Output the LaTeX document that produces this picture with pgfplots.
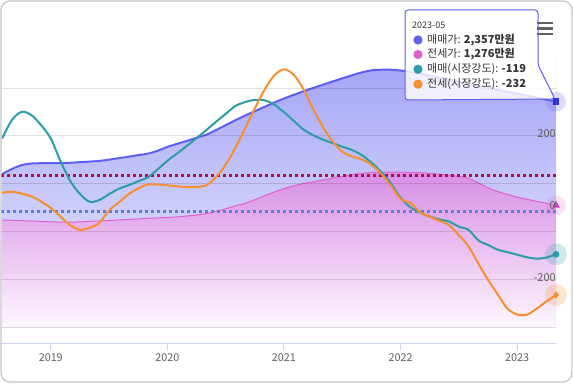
\documentclass[border=0pt]{standalone}
\usepackage{pgfplots}
\pgfplotsset{compat=1.18}
\usepackage{pgfplotstable}
\usepackage{fontspec}
\setmainfont{Noto Sans CJK KR}
\definecolor{cBlue}{HTML}{5E5EF0}
\definecolor{cBlueDark}{HTML}{2E2EDD}
\definecolor{cPink}{HTML}{E060D2}
\definecolor{cPinkDark}{HTML}{D03CC0}
\definecolor{cTeal}{HTML}{2A9DA6}
\definecolor{cOrange}{HTML}{F78F2E}
\definecolor{cRed}{HTML}{AE0F45}
\definecolor{cDot}{HTML}{5B7FD9}
\definecolor{axisc}{HTML}{CCD6EB}
\definecolor{labc}{HTML}{606060}
\definecolor{txtc}{HTML}{333333}
\definecolor{blueTop}{HTML}{A6A6F7}
\definecolor{blueBot}{HTML}{EEEEFE}
\definecolor{pinkTop}{HTML}{D88EE6}
\definecolor{pinkBot}{HTML}{FDF7FE}

\pgfplotstableread{
m p j
7 1603 1123
8 1655 1120
9 1695 1116
10 1712 1112
11 1715 1108
12 1715 1104
13 1716 1101
14 1720 1100
15 1726 1103
16 1732 1108
17 1739 1113
18 1752 1118
19 1768 1123
20 1783 1129
21 1800 1134
22 1815 1140
23 1845 1145
24 1885 1150
25 1917 1155
26 1948 1165
27 1980 1175
28 2012 1190
29 2060 1212
30 2112 1240
31 2163 1270
32 2212 1297
33 2258 1335
34 2303 1375
35 2348 1415
36 2390 1450
37 2428 1480
38 2465 1503
39 2500 1522
40 2534 1540
41 2567 1560
42 2600 1578
43 2632 1595
44 2662 1610
45 2684 1618
46 2690 1621
47 2690 1622
48 2682 1622
49 2668 1620
50 2650 1616
51 2630 1610
52 2610 1600
53 2588 1590
54 2566 1578
55 2545 1558
56 2523 1510
57 2502 1460
58 2480 1420
59 2460 1390
60 2440 1362
61 2420 1340
62 2400 1318
63 2378 1298
64 2357 1276
}\prices

\pgfplotstableread{
m s js
7 203 52
8 254 55
9 277 50
10 268 42
11 240 28
12 203 10
13 140 -14
14 85 -38
15 49 -51
16 27 -45
17 32 -32
18 48 3
19 63 25
20 73 48
21 84 64
22 95 75
23 117 75
24 141 73
25 161 70
26 182 68
27 204 68
28 226 73
29 249 95
30 271 130
31 293 177
32 304 231
33 310 286
34 309 338
35 297 378
36 276 395
37 252 380
38 228 340
39 212 285
40 200 235
41 190 195
42 180 166
43 171 153
44 157 145
45 136 130
46 110 105
47 78 72
48 38 35
49 12 24
50 -3 -2
51 -14 -14
52 -22 -26
53 -28 -38
54 -42 -66
55 -51 -97
56 -80 -144
57 -93 -190
58 -106 -230
59 -113 -270
60 -120 -286
61 -127 -287
62 -131 -270
63 -128 -250
64 -119 -232
}\strength

\begin{document}
\begin{tikzpicture}
\useasboundingbox (0,0) rectangle (573pt,383pt);
\fill[white] (0,0) rectangle (573pt,383pt);

% ---------- price axis (left, hidden labels) ----------
\begin{axis}[
  at={(1.2pt,40pt)}, anchor=south west,
  scale only axis, width=554.8pt, height=286pt,
  xmin=6.9, xmax=64,
  ymin=-160, ymax=2823,
  axis on top,
  axis x line*=bottom, axis y line*=left,
  x axis line style={draw=axisc, line width=1pt, -},
  y axis line style={draw=none},
  xtick={12,24,36,48,60},
  xticklabels={2019,2020,2021,2022,2023},
  tick align=outside, major tick length=7pt,
  xtick style={draw=axisc, line width=1pt},
  xticklabel style={font=\fontsize{10.8}{12}\selectfont, text=labc},
  ytick={0,500,1000,1500,2000,2500},
  yticklabels={},
  ytick style={draw=none},
  ymajorgrids,
  grid style={draw=black, draw opacity=0.12, line width=0.9pt},
]
\addplot[draw=none, top color=blueTop, bottom color=blueBot, smooth]
  table[x=m,y=p]{\prices} \closedcycle;
\addplot[draw=none, top color=pinkTop, bottom color=pinkBot, smooth]
  table[x=m,y=j]{\prices} \closedcycle;
\addplot[cBlue, line width=2pt, smooth] table[x=m,y=p]{\prices};
\addplot[cPink, line width=1pt, smooth] table[x=m,y=j]{\prices};
% halos + markers
\addplot[only marks, draw=none, mark=*, mark size=10pt, mark options={draw=none, draw opacity=0, fill=cBlue, fill opacity=0.2}] coordinates {(64,2357)};
\addplot[only marks, draw=none, mark=*, mark size=10pt, mark options={draw=none, draw opacity=0, fill=cPink, fill opacity=0.2}] coordinates {(64,1276)};
\addplot[only marks, draw=none, mark=square*, mark size=3.4pt, mark options={draw=none, draw opacity=0, fill=cBlueDark}] coordinates {(64,2357)};
\addplot[only marks, draw=none, mark=triangle*, mark size=4.5pt, mark options={draw=none, draw opacity=0, fill=cPinkDark}] coordinates {(64,1276)};
\end{axis}

% ---------- strength axis (right) ----------
\begin{axis}[
  at={(1.2pt,40pt)}, anchor=south west,
  scale only axis, width=554.8pt, height=286pt,
  xmin=6.9, xmax=64,
  ymin=-365.3, ymax=429.2,
  hide x axis,
  axis y line*=right,
  y axis line style={draw=none},
  ytick={-200,0,200},
  yticklabels={-200,0,200},
  major tick length=0pt,
  ytick style={draw=none},
  yticklabel style={anchor=south east, inner sep=0pt, yshift=2pt, xshift=0pt,
    font=\fontsize{11}{12}\selectfont, text=labc},
]
\draw[axisc, line width=1pt] (rel axis cs:1,0.0535) -- (rel axis cs:1,1);
\addplot[cRed, line width=2.2pt, dash pattern=on 2.4pt off 3.6pt] coordinates {(6.9,100) (64,100)};
\addplot[cDot, line width=2.2pt, dash pattern=on 2.4pt off 3.6pt] coordinates {(6.9,0) (64,0)};
\addplot[cTeal, line width=2pt, smooth] table[x=m,y=s]{\strength};
\addplot[cOrange, line width=2pt, smooth] table[x=m,y=js]{\strength};
\addplot[only marks, draw=none, mark=*, mark size=11pt, mark options={draw=none, draw opacity=0, fill=cTeal, fill opacity=0.22}] coordinates {(64,-119)};
\addplot[only marks, draw=none, mark=*, mark size=11pt, mark options={draw=none, draw opacity=0, fill=cOrange, fill opacity=0.22}] coordinates {(64,-232)};
\addplot[only marks, draw=none, mark=*, mark size=3.4pt, mark options={draw=none, draw opacity=0, fill=cTeal}] coordinates {(64,-119)};
\addplot[only marks, draw=none, mark=diamond*, mark size=3.8pt, mark options={draw=none, draw opacity=0, fill=cOrange}] coordinates {(64,-232)};
\end{axis}

% ---------- tooltip ----------
\draw[draw=cBlue, line width=1pt, fill=white, fill opacity=0.82, rounded corners=3pt]
  (405pt,373pt) -- (538pt,373pt) -- (538pt,318pt) -- (555pt,284pt) -- (405pt,283pt) -- cycle;
\node[anchor=west, inner sep=0pt, text=txtc, font=\fontsize{9}{10}\selectfont] at (412pt,358pt) {2023-05};
\fill[cBlue] (418pt,343pt) circle (4.6pt);
\fill[cPink] (418pt,328.5pt) circle (4.6pt);
\fill[cTeal] (418pt,313.7pt) circle (4.6pt);
\fill[cOrange] (418pt,298.8pt) circle (4.6pt);
\begin{scope}[every node/.style={anchor=west, inner sep=0pt, text=txtc, font=\fontsize{11}{12}\selectfont}]
\node at (427pt,343pt) {매매가: \textbf{2,357만원}};
\node at (427pt,328.5pt) {전세가: \textbf{1,276만원}};
\node at (427pt,313.7pt) {매매(시장강도): \textbf{-119}};
\node at (427pt,298.8pt) {전세(시장강도): \textbf{-232}};
\end{scope}

% ---------- menu icon ----------
\draw[labc, line width=2.6pt] (537pt,360pt) -- (553pt,360pt);
\draw[labc, line width=2.6pt] (537pt,354.5pt) -- (553pt,354.5pt);
\draw[labc, line width=2.6pt] (537pt,349pt) -- (553pt,349pt);

% ---------- frame ----------
\draw[black!22, line width=1.3pt, rounded corners=9pt] (1pt,1pt) rectangle (572pt,382pt);
\end{tikzpicture}
\end{document}
